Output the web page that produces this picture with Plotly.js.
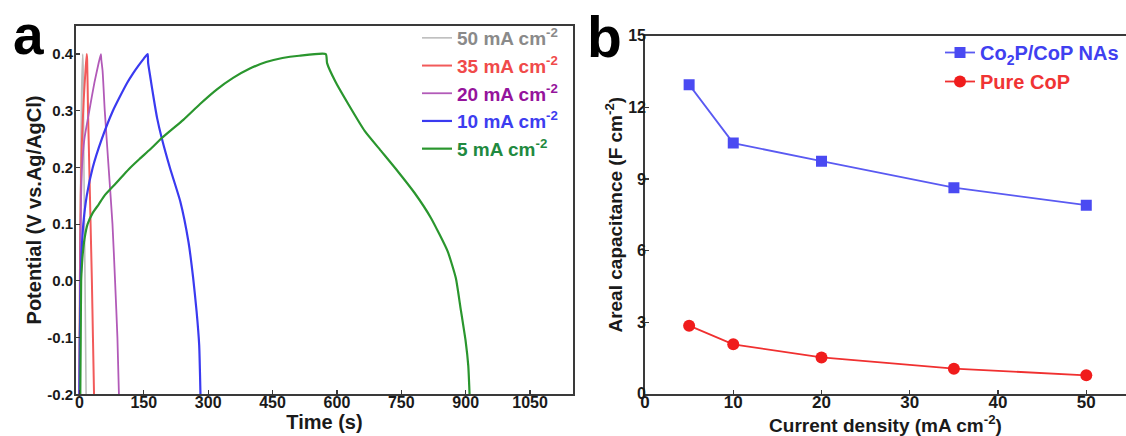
<!DOCTYPE html>
<html>
<head>
<meta charset="utf-8">
<script src="https://cdn.plot.ly/plotly-3.0.1.min.js"></script>
<style>html,body{margin:0;padding:0;background:#fff;}#chart{width:1126px;height:436px;}</style>
</head>
<body>
<div id="chart"></div>
<script>
// ---------- Panel a: galvanostatic charge-discharge curves ----------
const t50 = [0, 1, 3, 5, 7.5, 8.5, 10.5, 13, 15.5];
const v50 = [-0.2, 0.0, 0.2, 0.33, 0.4, 0.38, 0.2, 0.0, -0.2];

const t35 = [0, 1, 3, 6, 10, 14, 17, 18, 20, 23, 26, 29, 31.5, 34];
const v35 = [-0.2, 0.0, 0.15, 0.25, 0.32, 0.37, 0.4, 0.39, 0.3, 0.2, 0.1, 0.0, -0.1, -0.2];

const t20 = [0, 1, 2, 4, 6, 11.5, 23, 35, 45, 50, 51, 54, 59, 68, 77, 83, 88.5, 92];
const v20 = [-0.2, -0.05, 0.05, 0.15, 0.2, 0.25, 0.3, 0.35, 0.385, 0.4, 0.39, 0.37, 0.3, 0.2, 0.1, 0.0, -0.1, -0.2];

const t10 = [0, 1, 2, 3, 5, 9, 17, 31, 52, 78, 95, 111, 125, 138, 150, 159, 160, 165, 173, 181, 192, 211, 235, 254, 265, 273, 279, 282];
const v10 = [-0.2, -0.1, -0.05, 0.0, 0.05, 0.1, 0.15, 0.2, 0.25, 0.3, 0.326, 0.349, 0.366, 0.38, 0.392, 0.4, 0.385, 0.36, 0.322, 0.287, 0.251, 0.199, 0.14, 0.069, 0.005, -0.054, -0.113, -0.2];

const t5 = [2, 3, 4, 6, 8, 12, 19, 31, 45, 58, 85, 115, 140, 165, 192, 242, 281, 319, 358, 396, 435, 473, 512, 574, 577, 596, 627, 665, 704, 742, 781, 819, 858, 877, 888, 900, 906, 909];
const v5 = [-0.2, -0.1, 0.0, 0.03, 0.05, 0.075, 0.1, 0.12, 0.135, 0.15, 0.172, 0.197, 0.215, 0.232, 0.252, 0.284, 0.312, 0.337, 0.358, 0.374, 0.386, 0.393, 0.397, 0.4, 0.384, 0.352, 0.311, 0.264, 0.228, 0.193, 0.155, 0.111, 0.052, 0.005, -0.048, -0.107, -0.15, -0.2];

const aNames = ['50 mA cm<sup>-2</sup>', '35 mA cm<sup>-2</sup>', '20 mA cm<sup>-2</sup>', '10 mA cm<sup>-2</sup>', '5 mA cm<sup>-2</sup>'];
const aLineColors = ['#bdbdbd', '#f25a5a', '#b25ab8', '#3a3af0', '#2a962e'];
const aTextColors = ['#8a8a8a', '#f04a4a', '#95149c', '#3d3df0', '#1f8a40'];

const aXTicks = [0, 150, 300, 450, 600, 750, 900, 1050];
const aXTickText = ['0', '150', '300', '450', '600', '750', '900', '1050'];
const aYTicks = [-0.2, -0.1, 0.0, 0.1, 0.2, 0.3, 0.4];
const aYTickText = ['-0.2', '-0.1', '0.0', '0.1', '0.2', '0.3', '0.4'];

// ---------- Panel b: areal capacitance ----------
const currentDensity = [5, 10, 20, 35, 50];
const capCo2P = [12.95, 10.5, 9.74, 8.63, 7.9];
const capCoP = [2.85, 2.07, 1.52, 1.05, 0.77];
const bXTicks = [0, 10, 20, 30, 40, 50];
const bXTickText = ['0', '10', '20', '30', '40', '50'];
const bYTicks = [0, 3, 6, 9, 12, 15];
const bYTickText = ['0', '3', '6', '9', '12', '15'];

const FONT = 'Arial, "Liberation Sans", Helvetica, sans-serif';
const bold = arr => arr.map(s => '<b>' + s + '</b>');

const aT = [t50, t35, t20, t10, t5];
const aV = [v50, v35, v20, v10, v5];
const aWidths = [1.6, 2, 1.8, 2.2, 2.2];

const traces = [];
for (let i = 0; i < 5; i++) {
  traces.push({
    x: aT[i], y: aV[i], type: 'scatter', mode: 'lines',
    name: '<span style="color:' + aTextColors[i] + '">' + aNames[i] + '</span>',
    line: {color: aLineColors[i], width: aWidths[i], shape: 'spline', smoothing: 0.5},
    xaxis: 'x', yaxis: 'y', legend: 'legend'
  });
}
traces.push({
  x: currentDensity, y: capCo2P, type: 'scatter', mode: 'lines+markers',
  name: '<span style="color:#4040f0">Co<sub>2</sub>P/CoP NAs</span>',
  line: {color: '#5a5af2', width: 1.8},
  marker: {symbol: 'square', size: 11, color: '#4a4af2'},
  xaxis: 'x2', yaxis: 'y2', legend: 'legend2'
});
traces.push({
  x: currentDensity, y: capCoP, type: 'scatter', mode: 'lines+markers',
  name: '<span style="color:#f03434">Pure CoP</span>',
  line: {color: '#f03030', width: 1.8},
  marker: {symbol: 'circle', size: 12, color: '#f01c1c'},
  xaxis: 'x2', yaxis: 'y2', legend: 'legend2'
});

const axisCommon = {
  showline: true, mirror: true, linecolor: '#3a3a3a', linewidth: 1.8,
  showgrid: false, zeroline: false, automargin: false,
  ticks: 'inside', ticklen: 4, tickwidth: 1.2, tickcolor: '#3a3a3a',
  tickfont: {family: FONT, size: 16, color: '#1a1a1a', weight: 'bold'}
};

const layout = {
  width: 1126, height: 436, autosize: false,
  margin: {l: 0, r: 0, t: 0, b: 0, autoexpand: false},
  paper_bgcolor: '#ffffff', plot_bgcolor: '#ffffff',
  font: {family: FONT, color: '#1a1a1a'},
  xaxis: Object.assign({}, axisCommon, {
    domain: [76/1126, 573/1126], range: [-8, 1150], anchor: 'y',
    tickvals: aXTicks, ticktext: bold(aXTickText), ticklabelstandoff: -7,
    title: {text: 'Time (s)', font: {family: FONT, size: 20, weight: 'bold', color: '#1a1a1a'}, standoff: 4}
  }),
  yaxis: Object.assign({}, axisCommon, {
    domain: [41.7/436, 410.3/436], range: [-0.2, 0.45], anchor: 'x',
    tickvals: aYTicks, ticktext: bold(aYTickText), ticklabelstandoff: -2,
    tickfont: {family: FONT, size: 15, color: '#1a1a1a', weight: 'bold'},
    title: {text: 'Potential (V vs.Ag/AgCl)', font: {family: FONT, size: 20, weight: 'bold', color: '#1a1a1a'}, standoff: 0}
  }),
  xaxis2: Object.assign({}, axisCommon, {
    domain: [645/1126, 1], range: [0, 54.5], anchor: 'y2',
    tickvals: bXTicks, ticktext: bold(bXTickText), ticklabelstandoff: -8,
    tickfont: {family: FONT, size: 17, color: '#1a1a1a', weight: 'bold'},
    title: {text: 'Current density (mA cm<sup>-2</sup>)', font: {family: FONT, size: 19, weight: 'bold', color: '#1a1a1a'}, standoff: 5}
  }),
  yaxis2: Object.assign({}, axisCommon, {
    domain: [42.3/436, 400.3/436], range: [0, 15], anchor: 'x2',
    tickvals: bYTicks, ticktext: bold(bYTickText), ticklabelstandoff: -6,
    tickfont: {family: FONT, size: 16, color: '#1a1a1a', weight: 'bold'},
    title: {text: 'Areal capacitance (F cm<sup>-2</sup>)', font: {family: FONT, size: 19, weight: 'bold', color: '#1a1a1a'}, standoff: 0}
  }),
  legend: {
    xref: 'paper', yref: 'paper', x: 417/1126, y: 1 - 19/436,
    xanchor: 'left', yanchor: 'top', bgcolor: 'rgba(0,0,0,0)', borderwidth: 0,
    font: {family: FONT, size: 19, weight: 'bold'}, tracegroupgap: 0
  },
  legend2: {
    xref: 'paper', yref: 'paper', x: 940/1126, y: 1 - 33/436,
    xanchor: 'left', yanchor: 'top', bgcolor: 'rgba(0,0,0,0)', borderwidth: 0,
    font: {family: FONT, size: 20, weight: 'bold'}, tracegroupgap: 0
  },
  showlegend: true,
  annotations: [
    {text: 'a', xref: 'paper', yref: 'paper', x: 11/1126, y: 1 - 2/436, xanchor: 'left', yanchor: 'top',
     showarrow: false, font: {family: FONT, size: 55, weight: 'bold', color: '#000'}},
    {text: 'b', xref: 'paper', yref: 'paper', x: 585/1126, y: 1 - 3/436, xanchor: 'left', yanchor: 'top',
     showarrow: false, font: {family: FONT, size: 57, weight: 'bold', color: '#000'}}
  ]
};

Plotly.newPlot('chart', traces, layout, {displayModeBar: false, staticPlot: true});
</script>
</body>
</html>
